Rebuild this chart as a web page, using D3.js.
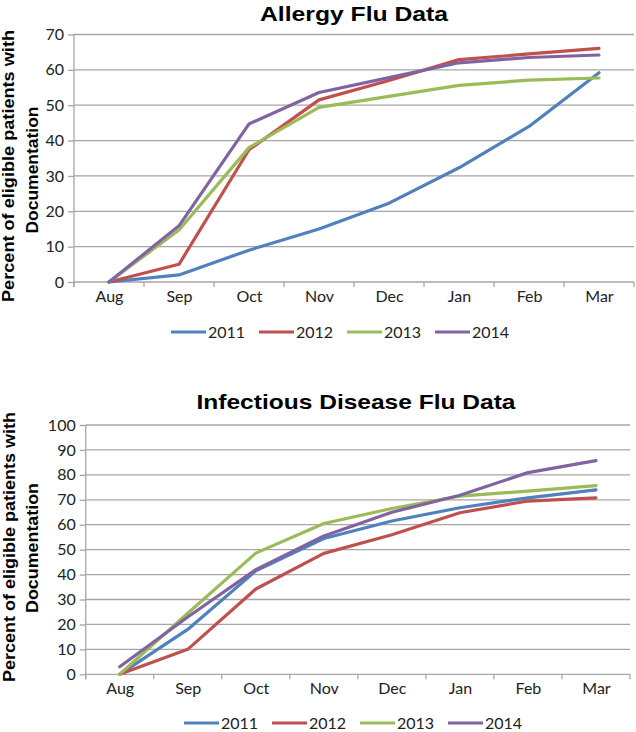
<!DOCTYPE html>
<html>
<head>
<meta charset="utf-8">
<script src="https://cdn.jsdelivr.net/npm/d3@7"></script>
<style>
  html, body { margin: 0; padding: 0; background: #fff; }
  svg { display: block; }
</style>
</head>
<body>
<svg id="chart" width="636" height="732"></svg>
<script>
const months = ["Aug", "Sep", "Oct", "Nov", "Dec", "Jan", "Feb", "Mar"];
const years = ["2011", "2012", "2013", "2014"];
const colors = ["#4F81BD", "#C0504D", "#9BBB59", "#8064A2"];

const allergyTicks = [0, 10, 20, 30, 40, 50, 60, 70];
const allergy2011 = [0, 2, 9, 15, 22.3, 32.3, 44, 59.2];
const allergy2012 = [0, 5, 37.4, 51.5, 57, 62.9, 64.5, 66.1];
const allergy2013 = [0, 14.7, 38, 49.4, 52.5, 55.6, 57.1, 57.7];
const allergy2014 = [0, 15.9, 44.7, 53.6, 57.8, 62, 63.5, 64.2];

const infTicks = [0, 10, 20, 30, 40, 50, 60, 70, 80, 90, 100];
const inf2011 = [0, 18, 41.5, 54.5, 61.5, 66.8, 70.8, 74];
const inf2012 = [0, 10, 34.2, 48.5, 56, 64.8, 69.5, 70.8];
const inf2013 = [0, 24.5, 48.6, 60.5, 66.5, 71.5, 73.5, 75.7];
const inf2014 = [3, 23, 42, 55.5, 65, 71.8, 80.9, 85.7];

const yLabel1 = "Percent of eligible patients with";
const yLabel2 = "Documentation";

const svg = d3.select("#chart");
const GRID = "#a6a6a6";
const TICKFONT = "Lato, 'Open Sans', sans-serif";
const BOLDFONT = "'Liberation Sans', Arial, sans-serif";

function drawChart(cfg) {
  const g = svg.append("g");
  const x = d3.scalePoint().domain(months).range([cfg.x0, cfg.x1]).padding(0.5);
  const step = x.step();
  const y = d3.scaleLinear().domain([0, cfg.ymax]).range([cfg.yBottom, cfg.yTop]);

  // title
  g.append("text")
    .attr("x", cfg.titleX).attr("y", cfg.titleY)
    .attr("text-anchor", "middle")
    .attr("font-family", BOLDFONT).attr("font-weight", "bold")
    .attr("font-size", 21)
    .attr("textLength", cfg.titleLen).attr("lengthAdjust", "spacingAndGlyphs")
    .attr("fill", "#000")
    .text(cfg.title);

  // gridlines
  g.append("g").selectAll("line").data(cfg.ticks.filter(t => t > 0)).join("line")
    .attr("x1", cfg.x0).attr("x2", cfg.x1)
    .attr("y1", d => y(d)).attr("y2", d => y(d))
    .attr("stroke", GRID).attr("stroke-width", 1.3);

  // y axis
  const yAxis = d3.axisLeft(y).tickValues(cfg.ticks).tickSize(6).tickPadding(4).tickSizeOuter(0);
  const ya = g.append("g").attr("transform", `translate(${cfg.x0},0)`).call(yAxis);
  ya.select(".domain").attr("stroke", GRID).attr("stroke-width", 1.3)
    .attr("d", `M0,${cfg.yTop}V${cfg.yBottom + 5}`);
  ya.selectAll(".tick line").attr("stroke", GRID).attr("stroke-width", 1.3);
  ya.selectAll(".tick text").attr("font-family", TICKFONT).attr("font-size", 16)
    .attr("fill", "#222");

  // x axis
  const xAxis = d3.axisBottom(x).tickSize(0).tickPadding(cfg.xPad);
  const xa = g.append("g").attr("transform", `translate(0,${cfg.yBottom})`).call(xAxis);
  xa.select(".domain").attr("stroke", GRID).attr("stroke-width", 1.3)
    .attr("d", `M${cfg.x0},0H${cfg.x1}`);
  xa.selectAll(".tick text").attr("font-family", TICKFONT).attr("font-size", 16)
    .attr("fill", "#222");
  const bounds = d3.range(months.length + 1).map(i => cfg.x0 + i * step);
  xa.append("g").selectAll("line").data(bounds).join("line")
    .attr("x1", d => d).attr("x2", d => d).attr("y1", 0).attr("y2", 5)
    .attr("stroke", GRID).attr("stroke-width", 1.3);

  // series
  const line = d3.line().x((d, i) => x(months[i])).y(d => y(d));
  cfg.series.forEach((s, i) => {
    g.append("path").datum(s)
      .attr("d", line)
      .attr("fill", "none")
      .attr("stroke", colors[i])
      .attr("stroke-width", 3.2)
      .attr("stroke-linejoin", "round")
      .attr("stroke-linecap", "round");
  });

  // y label
  const lab = g.append("g").attr("font-family", BOLDFONT).attr("font-weight", "bold")
    .attr("font-size", 17).attr("fill", "#000").attr("text-anchor", "middle");
  lab.append("text")
    .attr("transform", `translate(${cfg.lab1X},${cfg.lab1Y}) rotate(-90)`)
    .attr("textLength", cfg.lab1Len).attr("lengthAdjust", "spacingAndGlyphs")
    .text(yLabel1);
  lab.append("text")
    .attr("transform", `translate(${cfg.lab2X},${cfg.lab2Y}) rotate(-90)`)
    .attr("textLength", cfg.lab2Len).attr("lengthAdjust", "spacingAndGlyphs")
    .text(yLabel2);

  // legend
  const leg = g.append("g");
  years.forEach((yr, i) => {
    const lx = cfg.legX + i * cfg.legStep;
    leg.append("line")
      .attr("x1", lx).attr("x2", lx + 35)
      .attr("y1", cfg.legY).attr("y2", cfg.legY)
      .attr("stroke", colors[i]).attr("stroke-width", 3.2);
    leg.append("text")
      .attr("x", lx + 37).attr("y", cfg.legY).attr("dy", "0.36em")
      .attr("font-family", TICKFONT).attr("font-size", 16).attr("fill", "#222")
      .text(yr);
  });
}

drawChart({
  title: "Allergy Flu Data", titleX: 354, titleY: 21, titleLen: 188,
  x0: 74, x1: 634, yTop: 34.5, yBottom: 282, ymax: 70, ticks: allergyTicks,
  xPad: 9,
  series: [allergy2011, allergy2012, allergy2013, allergy2014],
  lab1X: 14, lab1Y: 166, lab1Len: 272,
  lab2X: 37.5, lab2Y: 170, lab2Len: 127,
  legX: 171, legStep: 88, legY: 332
});

drawChart({
  title: "Infectious Disease Flu Data", titleX: 356, titleY: 409, titleLen: 319,
  x0: 85.7, x1: 630, yTop: 425, yBottom: 674.3, ymax: 100, ticks: infTicks,
  xPad: 8,
  series: [inf2011, inf2012, inf2013, inf2014],
  lab1X: 15, lab1Y: 547, lab1Len: 270,
  lab2X: 37.5, lab2Y: 548, lab2Len: 130,
  legX: 184, legStep: 88, legY: 723
});
</script>
</body>
</html>
